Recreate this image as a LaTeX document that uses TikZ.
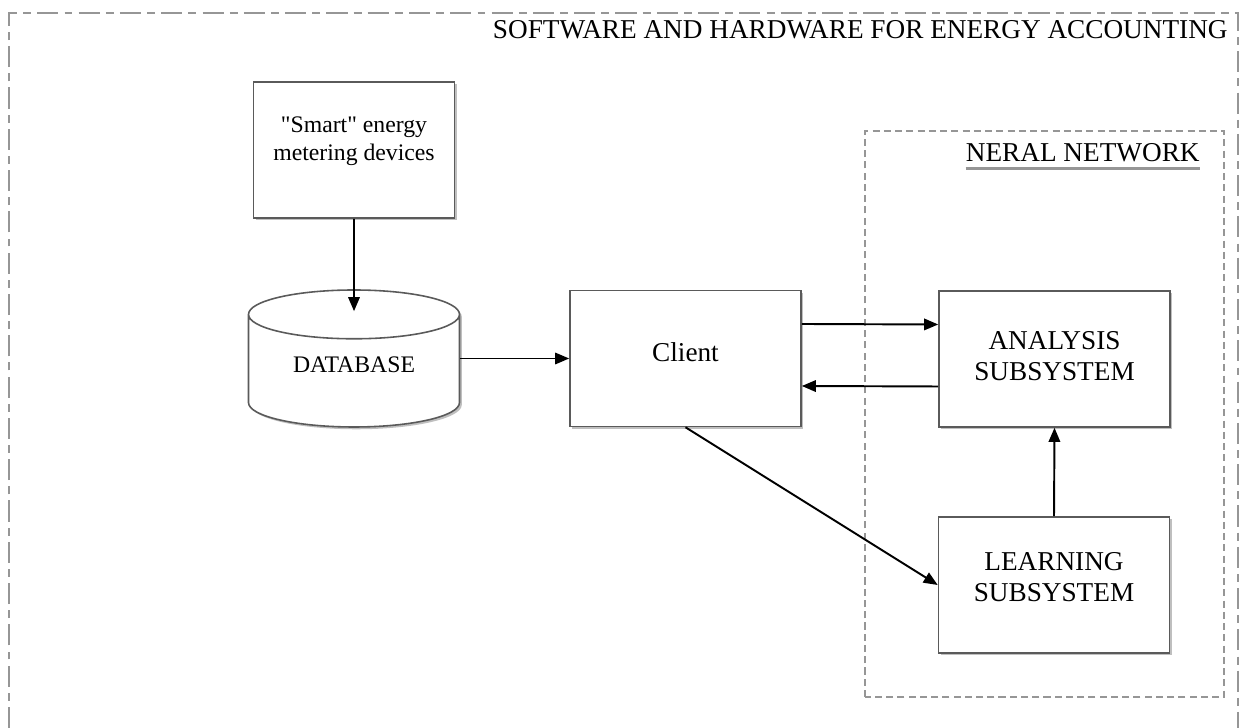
\documentclass[tikz,border=0pt]{standalone}
\usepackage{fontspec}
\setmainfont{Liberation Serif}
\usepackage{tikz}
\usetikzlibrary{arrows.meta, positioning, shapes.geometric, shadows}
\definecolor{framegray}{RGB}{150, 150, 150}
\definecolor{boxgray}{RGB}{90, 90, 90}

\begin{document}
\begin{tikzpicture}[
  blockbox/.style={draw=boxgray, line width=0.9pt, fill=white, align=center,
    minimum width=4.62cm, minimum height=2.72cm, inner sep=0pt,
    font=\fontsize{15.5}{18}\selectfont,
    drop shadow={shadow xshift=1.3pt, shadow yshift=-1.3pt, opacity=0.5}},
  dbcyl/.style={cylinder, shape border rotate=90, aspect=0.4, draw=boxgray,
    line width=0.9pt, fill=white, minimum width=4.22cm, minimum height=2.74cm,
    inner sep=0pt, font=\fontsize{13.5}{16}\selectfont,
    drop shadow={shadow xshift=1.3pt, shadow yshift=-1.3pt, opacity=0.5}},
  heading/.style={inner sep=0pt, font=\fontsize{15.5}{18}\selectfont},
  flowarrow/.style={-{Triangle[length=8pt, width=6.5pt]}, line width=1.1pt},
]
  \useasboundingbox (0,0) rectangle (24.8,14.56);

  % Outer frame (runs past the bottom edge)
  \draw[framegray, line width=0.9pt, dash pattern=on 12pt off 3.5pt on 4.5pt off 3.5pt]
    (0.18,0) -- (0.18,14.3) -- (24.76,14.3) -- (24.76,0);
  \node[heading, anchor=base east] (title) at (24.56,13.78)
    {SOFTWARE AND HARDWARE FOR ENERGY ACCOUNTING};

  % Neural network frame
  \draw[framegray, line width=0.8pt, dash pattern=on 4pt off 2.4pt]
    (17.3,0.62) rectangle (24.48,11.94);
  \node[heading, anchor=base east] (nnlabel) at (24.0,11.32) {NERAL NETWORK};
  \draw[framegray, line width=1.3pt] ([yshift=-0.13cm]nnlabel.base west) -- ([yshift=-0.13cm]nnlabel.base east);

  % Blocks
  \node[blockbox, minimum width=4.02cm, text depth=13pt, font=\fontsize{13.5}{15.5}\selectfont] (smart) at (7.08,11.56)
    {\textquotedbl{}Smart\textquotedbl{} energy\\metering devices};
  \node[dbcyl, anchor=shape center, text depth=7.4pt] (db) at (7.08,7.39) {DATABASE};
  \node[blockbox, text depth=6.8pt] (client) at (13.71,7.39) {Client};
  \node[blockbox, text depth=3.4pt] (analysis) at (21.09,7.38) {ANALYSIS\\SUBSYSTEM};
  \node[blockbox, text depth=9pt] (learning) at (21.08,2.86) {LEARNING\\SUBSYSTEM};

  % Connectors
  \draw[flowarrow] (smart.south) -- ([yshift=-0.44cm]db.north);
  \draw[flowarrow] (db.east |- client.west) -- (client.west);
  \draw[flowarrow] ([yshift=0.69cm]client.east) -- ([yshift=0.69cm]analysis.west);
  \draw[flowarrow] ([yshift=-0.55cm]analysis.west) -- ([yshift=-0.55cm]client.east);
  \draw[flowarrow] (learning.north) -- (analysis.south);
  \draw[flowarrow] (client.south) -- (learning.west);

\end{tikzpicture}
\end{document}
